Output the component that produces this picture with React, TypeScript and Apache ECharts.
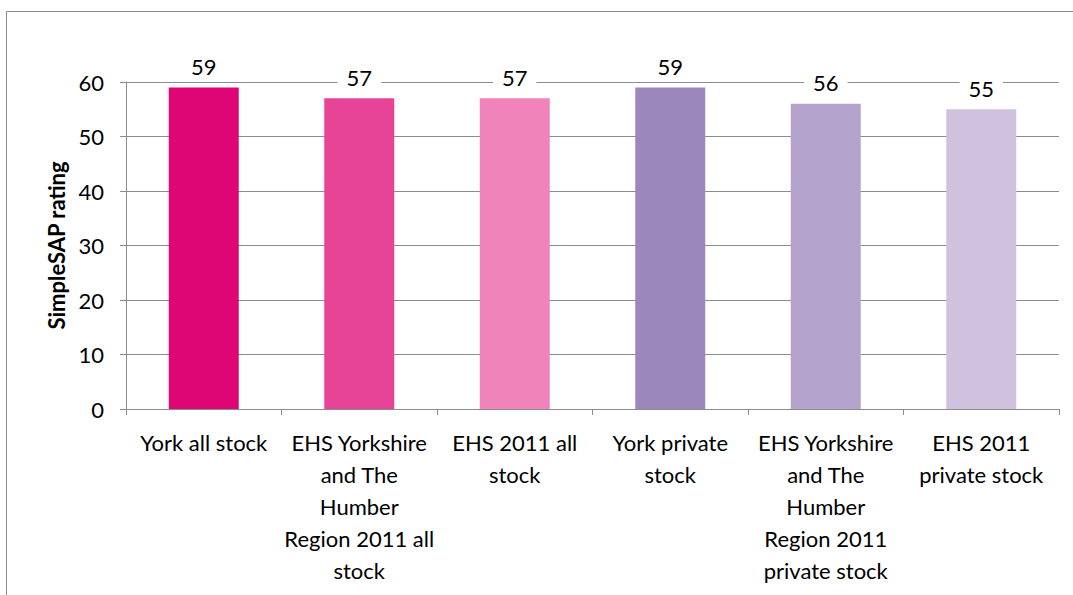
import React, { useEffect, useRef } from "react";
import * as echarts from "echarts";

const categories = [
  "York all stock",
  "EHS Yorkshire\nand The\nHumber\nRegion 2011 all\nstock",
  "EHS 2011 all\nstock",
  "York private\nstock",
  "EHS Yorkshire\nand The\nHumber\nRegion 2011\nprivate stock",
  "EHS 2011\nprivate stock",
];
const values = [59, 57, 57, 59, 56, 55];
const barColors = ["#DE0574", "#E84497", "#F083BA", "#9C87BD", "#B4A3CC", "#D0C2DF"];
const yAxisName = "SimpleSAP rating";

const FONT = "Lato, 'Open Sans', sans-serif";

export default function App() {
  const ref = useRef<HTMLDivElement>(null);
  useEffect(() => {
    if (!ref.current) return;
    const chart = echarts.init(ref.current, undefined, { renderer: "svg" });
    chart.setOption({
      animation: false,
      backgroundColor: "#ffffff",
      textStyle: { fontFamily: FONT },
      graphic: [
        {
          type: "rect",
          shape: { x: 6.5, y: 11.5, width: 1200, height: 700 },
          style: { fill: "none", stroke: "#8c8c8c", lineWidth: 1 },
          silent: true,
        },
      ],
      grid: { left: 126, right: 14, top: 82, bottom: 186, containLabel: false },
      xAxis: {
        type: "category",
        data: categories,
        axisLine: { show: true, lineStyle: { color: "#8c8c8c", width: 1 } },
        axisTick: { show: true, length: 6, lineStyle: { color: "#8c8c8c" } },
        axisLabel: {
          interval: 0,
          color: "#000",
          fontFamily: FONT,
          fontSize: 22,
          lineHeight: 32,
          margin: 17,
          align: "center",
        },
      },
      yAxis: {
        type: "value",
        min: 0,
        max: 60,
        interval: 10,
        name: yAxisName,
        nameLocation: "middle",
        nameGap: 55,
        nameTextStyle: { color: "#000", fontFamily: FONT, fontSize: 22, fontWeight: "bold" },
        axisLine: { show: true, lineStyle: { color: "#8c8c8c", width: 1 } },
        axisTick: { show: true, length: 6, lineStyle: { color: "#8c8c8c" } },
        axisLabel: { color: "#000", fontFamily: FONT, fontSize: 22, margin: 22 },
        splitLine: { show: true, lineStyle: { color: "#8c8c8c", width: 1 } },
      },
      series: [
        {
          type: "bar",
          barWidth: 70,
          data: values.map((v, i) => ({ value: v, itemStyle: { color: barColors[i] } })),
          label: {
            show: true,
            position: "top",
            distance: 8,
            color: "#000",
            fontFamily: FONT,
            fontSize: 22,
            backgroundColor: "#ffffff",
            padding: [2, 9, 2, 9],
          },
        },
      ],
    });
    return () => chart.dispose();
  }, []);
  return (
    <div
      ref={ref}
      style={{ position: "absolute", left: 0, top: 0, width: 1073, height: 595 }}
    />
  );
}
